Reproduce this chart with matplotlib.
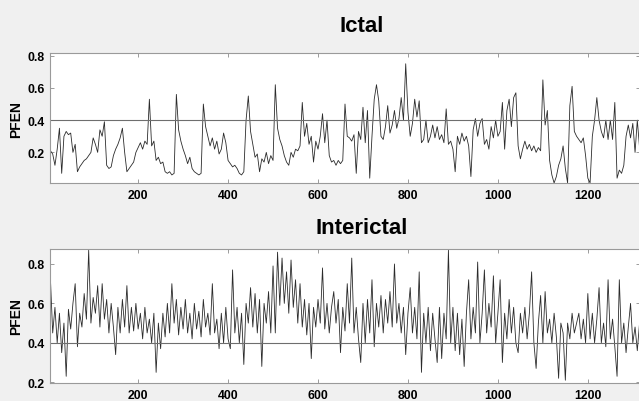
import numpy as np
import matplotlib
matplotlib.use("Agg")
import matplotlib.pyplot as plt

plt.rcParams['font.family'] = ['Liberation Sans', 'DejaVu Sans']

# sample index of each value (every 5th sample)
samples = np.arange(5, 1340, 5)

# PFEN
ictal = [
    0.21, 0.19, 0.12, 0.22, 0.35, 0.07, 0.30, 0.33, 0.31, 0.32,
    0.20, 0.25, 0.08, 0.11, 0.13, 0.15, 0.16, 0.18, 0.20, 0.29,
    0.25, 0.20, 0.34, 0.30, 0.39, 0.12, 0.10, 0.11, 0.18, 0.22,
    0.25, 0.29, 0.35, 0.20, 0.08, 0.10, 0.12, 0.14, 0.20, 0.23,
    0.26, 0.22, 0.27, 0.25, 0.53, 0.24, 0.27, 0.15, 0.17, 0.13,
    0.14, 0.08, 0.07, 0.08, 0.06, 0.07, 0.56, 0.34, 0.27, 0.22,
    0.18, 0.13, 0.17, 0.10, 0.08, 0.07, 0.06, 0.07, 0.50, 0.36,
    0.30, 0.24, 0.29, 0.22, 0.27, 0.19, 0.22, 0.32, 0.26, 0.15,
    0.13, 0.11, 0.12, 0.10, 0.07, 0.06, 0.08, 0.40, 0.55, 0.33,
    0.25, 0.17, 0.19, 0.08, 0.16, 0.14, 0.20, 0.13, 0.18, 0.15,
    0.62, 0.35, 0.28, 0.24, 0.18, 0.14, 0.12, 0.20, 0.17, 0.22,
    0.21, 0.24, 0.51, 0.30, 0.38, 0.25, 0.30, 0.14, 0.27, 0.22,
    0.30, 0.44, 0.26, 0.40, 0.18, 0.14, 0.15, 0.12, 0.15, 0.13,
    0.15, 0.50, 0.30, 0.29, 0.27, 0.31, 0.07, 0.33, 0.28, 0.48,
    0.26, 0.46, 0.04, 0.30, 0.53, 0.62, 0.52, 0.30, 0.28, 0.36,
    0.49, 0.32, 0.37, 0.46, 0.35, 0.41, 0.54, 0.40, 0.75, 0.45,
    0.30, 0.38, 0.53, 0.42, 0.52, 0.26, 0.28, 0.40, 0.26, 0.30,
    0.37, 0.29, 0.36, 0.28, 0.31, 0.26, 0.47, 0.25, 0.27, 0.22,
    0.08, 0.30, 0.25, 0.32, 0.27, 0.30, 0.24, 0.05, 0.34, 0.41,
    0.30, 0.38, 0.41, 0.25, 0.28, 0.22, 0.36, 0.29, 0.40, 0.30,
    0.33, 0.51, 0.22, 0.46, 0.53, 0.36, 0.54, 0.57, 0.24, 0.16,
    0.22, 0.27, 0.22, 0.25, 0.21, 0.24, 0.20, 0.23, 0.21, 0.65,
    0.37, 0.46, 0.15, 0.06, 0.01, 0.05, 0.12, 0.16, 0.24, 0.10,
    0.01, 0.49, 0.61, 0.33, 0.30, 0.28, 0.26, 0.29, 0.18, 0.04,
    0.01, 0.30, 0.40, 0.54, 0.40, 0.33, 0.29, 0.40, 0.28, 0.40,
    0.28, 0.51, 0.04, 0.09, 0.07, 0.12, 0.30, 0.37, 0.29, 0.38,
    0.20, 0.40, 0.23, 0.31, 0.35, 0.28, 0.33,
]

# PFEN
interictal = [
    0.72, 0.45, 0.58, 0.40, 0.55, 0.35, 0.50, 0.23, 0.57, 0.47,
    0.60, 0.70, 0.38, 0.55, 0.48, 0.65, 0.52, 0.87, 0.50, 0.63,
    0.55, 0.69, 0.48, 0.70, 0.52, 0.62, 0.45, 0.60, 0.48, 0.34,
    0.58, 0.45, 0.62, 0.48, 0.69, 0.45, 0.58, 0.46, 0.60, 0.47,
    0.55, 0.42, 0.58, 0.45, 0.52, 0.40, 0.55, 0.25, 0.50, 0.37,
    0.55, 0.43, 0.60, 0.45, 0.70, 0.50, 0.62, 0.44, 0.58, 0.47,
    0.62, 0.45, 0.55, 0.42, 0.60, 0.47, 0.56, 0.43, 0.62, 0.48,
    0.55, 0.44, 0.70, 0.45, 0.52, 0.37, 0.55, 0.40, 0.58, 0.42,
    0.37, 0.77, 0.45, 0.58, 0.40, 0.55, 0.29, 0.60, 0.50, 0.68,
    0.48, 0.65, 0.45, 0.62, 0.28, 0.60, 0.50, 0.66, 0.45, 0.79,
    0.45, 0.86, 0.59, 0.83, 0.60, 0.76, 0.55, 0.82, 0.58, 0.72,
    0.50, 0.70, 0.48, 0.62, 0.44, 0.60, 0.32, 0.58, 0.48, 0.62,
    0.50, 0.78, 0.47, 0.60, 0.45, 0.58, 0.66, 0.50, 0.62, 0.35,
    0.58, 0.46, 0.70, 0.50, 0.83, 0.45, 0.58, 0.42, 0.30, 0.60,
    0.40, 0.62, 0.45, 0.72, 0.38, 0.60, 0.48, 0.64, 0.45, 0.62,
    0.50, 0.66, 0.48, 0.80, 0.50, 0.60, 0.45, 0.58, 0.34, 0.55,
    0.68, 0.45, 0.58, 0.42, 0.76, 0.25, 0.55, 0.40, 0.58, 0.36,
    0.55, 0.42, 0.30, 0.58, 0.32, 0.55, 0.42, 0.87, 0.40, 0.58,
    0.36, 0.55, 0.34, 0.52, 0.28, 0.55, 0.72, 0.42, 0.58, 0.45,
    0.81, 0.40, 0.55, 0.77, 0.45, 0.60, 0.48, 0.74, 0.40, 0.55,
    0.72, 0.30, 0.55, 0.42, 0.62, 0.45, 0.58, 0.40, 0.35, 0.55,
    0.45, 0.58, 0.42, 0.55, 0.76, 0.40, 0.27, 0.50, 0.64, 0.40,
    0.66, 0.45, 0.52, 0.40, 0.55, 0.43, 0.22, 0.50, 0.45, 0.21,
    0.50, 0.42, 0.55, 0.45, 0.50, 0.55, 0.42, 0.52, 0.40, 0.65,
    0.42, 0.55, 0.40, 0.52, 0.68, 0.40, 0.50, 0.38, 0.72, 0.42,
    0.52, 0.38, 0.23, 0.72, 0.40, 0.50, 0.35, 0.48, 0.60, 0.40,
    0.48, 0.36, 0.50, 0.42, 0.55, 0.40, 0.50,
]

titles = ["Ictal", "Interictal"]
threshold = 0.4
xticks = [200, 400, 600, 800, 1000, 1200]
yticks = [0.2, 0.4, 0.6, 0.8]

fig = plt.figure(figsize=(6.39, 4.02), dpi=100, facecolor="#f0f0f0")
ax1 = fig.add_axes([50/639, 218/402, 590/639, 129.7/402])
ax2 = fig.add_axes([50/639, 18/402, 590/639, 134/402])

series = [ictal, interictal]
ylims = [(0.01, 0.815), (0.196, 0.876)]
pads = [16, 11.5]

for ax, y, title, ylim, pad in zip([ax1, ax2], series, titles, ylims, pads):
    ax.plot(samples, y, color="#2b2b2b", lw=0.6)
    ax.axhline(threshold, color="#6e6e6e", lw=0.8)
    ax.set_xlim(4, 1316)
    ax.set_ylim(*ylim)
    ax.set_xticks(xticks)
    ax.set_yticks(yticks)
    ax.set_yticklabels(["%.1f" % t for t in yticks])
    ax.tick_params(direction="in", length=3, width=0.6, color="#8c8c8c",
                   top=True, right=True, labelsize=8.8, pad=4)
    for lab in ax.get_xticklabels() + ax.get_yticklabels():
        lab.set_fontweight("bold")
    for s in ax.spines.values():
        s.set_color("#9a9a9a")
        s.set_linewidth(0.8)
    ax.set_ylabel("PFEN", fontsize=10, fontweight="bold", labelpad=3)
    ax.set_title(title, fontsize=16, fontweight="bold", x=(362-50)/590, pad=pad)

fig.savefig("out.png", dpi=100, facecolor=fig.get_facecolor())
